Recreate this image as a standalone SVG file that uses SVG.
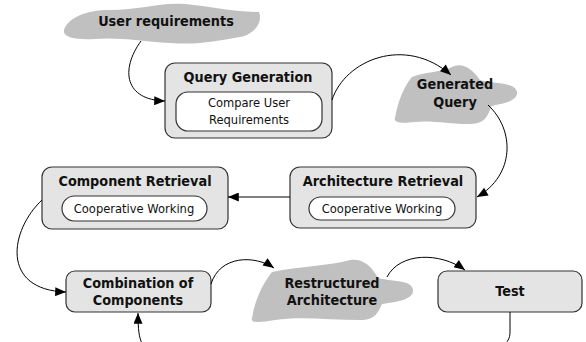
<svg xmlns="http://www.w3.org/2000/svg" width="586" height="342" viewBox="0 0 586 342">
<defs>
<marker id="ah" viewBox="0 0 12 10" refX="12" refY="5" markerWidth="12" markerHeight="9" markerUnits="userSpaceOnUse" orient="auto">
<path d="M0,0 L12,5 L0,10 Z" fill="#000"/>
</marker>
<style>
.box{fill:#e4e4e4;stroke:#333;stroke-width:1.2}
.inner{fill:#fff;stroke:#333;stroke-width:1.2}
.blob{fill:#c0c0c0;stroke:none}
.t{font-family:"DejaVu Sans Condensed","DejaVu Sans",sans-serif;font-size:14.3px;font-weight:bold;text-anchor:middle;fill:#111}
.s{font-family:"DejaVu Sans Condensed","DejaVu Sans",sans-serif;font-size:12.8px;text-anchor:middle;fill:#111}
.c{fill:none;stroke:#000;stroke-width:1;marker-end:url(#ah)}
</style>
</defs>
<rect width="586" height="342" fill="#fff"/>
<g id="user-requirements">
<path class="blob" d="M64 30 C68 18 85 10 110 10 C140 10 160 2 185 4 C210 6 230 12 259 12 C263 22 255 34 240 37 C215 41 200 45 170 43 C140 41 120 37 95 39 C78 40 62 38 64 30 Z"/>
<text class="t" x="166" y="26">User requirements</text>
</g>
<g id="query-generation">
<rect class="box" x="165" y="63" width="167" height="75" rx="10"/>
<rect class="inner" x="176" y="92" width="146" height="39" rx="12"/>
<text class="t" x="248" y="82">Query Generation</text>
<text class="s" x="249" y="107">Compare User</text>
<text class="s" x="249" y="124">Requirements</text>
</g>
<g id="generated-query">
<path class="blob" d="M395 118 C398 100 405 85 412 77 C425 72 440 72 450 68 C460 62 470 66 480 80 C495 84 515 82 517 92 C518 102 500 104 492 106 C488 112 488 124 470 124 C450 124 430 120 415 122 C400 124 393 122 395 118 Z"/>
<text class="t" x="455" y="89">Generated</text>
<text class="t" x="455" y="107">Query</text>
</g>
<g id="architecture-retrieval">
<rect class="box" x="290" y="167" width="186" height="61" rx="10"/>
<rect class="inner" x="309" y="197" width="146" height="23" rx="11.5"/>
<text class="t" x="383" y="186">Architecture Retrieval</text>
<text class="s" x="382" y="213">Cooperative Working</text>
</g>
<g id="component-retrieval">
<rect class="box" x="42" y="167" width="186" height="62" rx="10"/>
<rect class="inner" x="62" y="196" width="145" height="25" rx="12.5"/>
<text class="t" x="135" y="186">Component Retrieval</text>
<text class="s" x="134" y="213">Cooperative Working</text>
</g>
<g id="combination-of-components">
<rect class="box" x="66" y="271" width="145" height="41" rx="9"/>
<text class="t" x="138" y="288">Combination of</text>
<text class="t" x="138" y="305">Components</text>
</g>
<g id="restructured-architecture">
<path class="blob" d="M252 318 C255 300 262 285 272 272 C300 266 330 266 350 260 C362 258 372 266 378 278 C395 282 412 280 413 290 C414 300 395 302 382 304 C378 312 376 320 360 320 C330 320 300 316 275 320 C262 322 250 324 252 318 Z"/>
<text class="t" x="332" y="288">Restructured</text>
<text class="t" x="332" y="305">Architecture</text>
</g>
<g id="test">
<rect class="box" x="438" y="271" width="144" height="41" rx="9"/>
<text class="t" x="510" y="296">Test</text>
</g>
<g id="connectors">
<path class="c" d="M141 41 C120 70 125 100 165 101"/>
<path class="c" d="M332 100 C345 60 405 35 451 75"/>
<path class="c" d="M488 105 C515 130 515 175 477 197"/>
<path class="c" d="M290 197 L228 197"/>
<path class="c" d="M42 200 C10 230 0 290 66 292"/>
<path class="c" d="M211 284 C220 255 255 255 274 268"/>
<path class="c" d="M387 277 C400 252 440 252 465 270"/>
<path class="c" d="M510 312 L510 332 C510 345 500 348 480 350 L160 350 C142 350 138 345 138 313"/>
</g>
</svg>
